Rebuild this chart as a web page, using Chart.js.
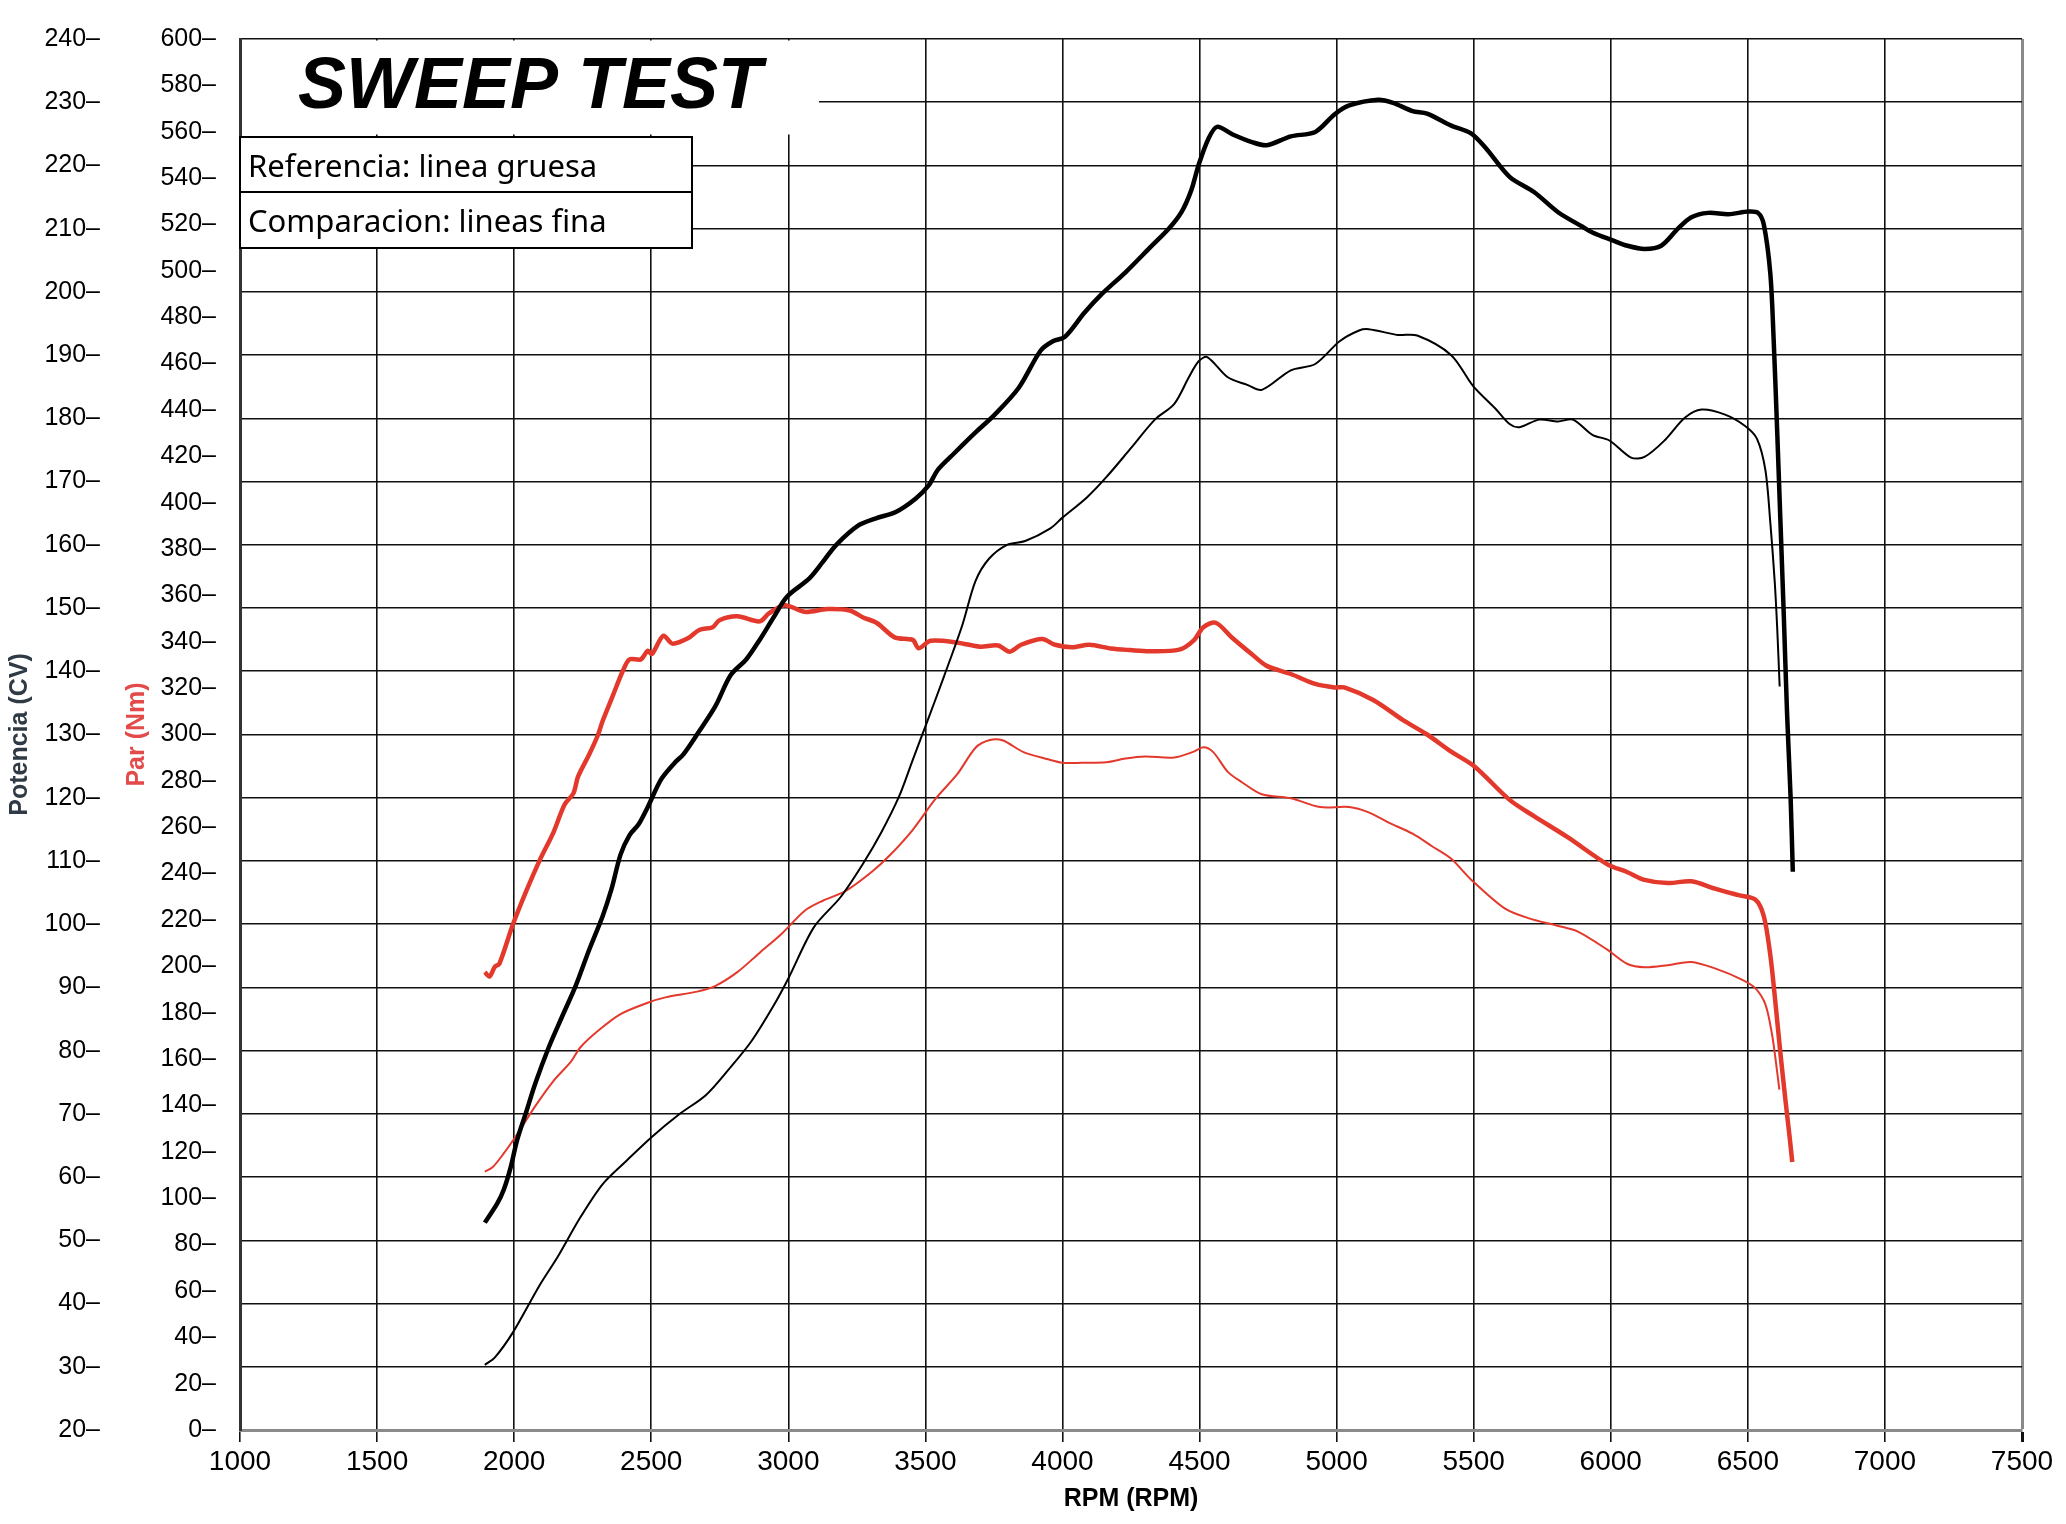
<!DOCTYPE html>
<html>
<head>
<meta charset="utf-8">
<title>Sweep test</title>
<script src="https://cdn.jsdelivr.net/npm/chart.js@4.4.1/dist/chart.umd.min.js"></script>
<style>
  html, body { margin: 0; padding: 0; background: #fff; }
  #wrap { width: 2066px; height: 1524px; }
</style>
</head>
<body>
<div id="wrap"><canvas id="dyno" width="2066" height="1524"></canvas></div>
<script>
// Reference run (thick lines)
const rpmRefPower = [1893, 1938, 1962, 1987, 2011, 2044, 2077, 2126, 2175, 2224, 2274, 2323, 2356, 2388, 2421, 2454, 2487, 2536, 2585, 2618, 2667, 2733, 2790, 2847, 2896, 2946, 2995, 3077, 3126, 3175, 3257, 3320, 3392, 3464, 3512, 3546, 3608, 3681, 3753, 3840, 3920, 3965, 4009, 4080, 4142, 4230, 4319, 4390, 4434, 4470, 4496, 4532, 4564, 4621, 4691, 4745, 4833, 4922, 4993, 5046, 5152, 5206, 5277, 5330, 5418, 5489, 5543, 5631, 5720, 5808, 5897, 5933, 6004, 6061, 6123, 6184, 6245, 6294, 6355, 6429, 6502, 6537, 6558, 6582, 6594, 6607, 6619, 6631, 6643, 6656, 6664];
const refPower = [52.8, 55.8, 58.0, 61.5, 65.9, 70.3, 74.8, 80.5, 85.4, 90.2, 96.0, 101.3, 105.7, 111.0, 114.1, 115.8, 118.5, 122.9, 125.5, 126.9, 130.0, 134.4, 139.4, 141.9, 145.0, 148.5, 151.8, 154.7, 157.3, 160.0, 163.1, 164.2, 165.2, 167.3, 169.4, 171.9, 174.6, 177.7, 180.6, 184.8, 190.7, 192.2, 192.9, 196.7, 199.6, 203.1, 207.0, 210.1, 212.6, 216.1, 220.0, 224.2, 226.1, 224.9, 223.7, 223.2, 224.6, 225.3, 228.1, 229.5, 230.4, 229.9, 228.6, 228.2, 226.3, 225.1, 222.8, 218.2, 215.8, 212.6, 210.3, 209.4, 208.2, 207.3, 206.8, 207.3, 210.0, 211.8, 212.5, 212.3, 212.7, 212.5, 210.7, 202.9, 192.6, 178.0, 163.5, 149.0, 133.4, 120.0, 108.3];

const rpmRefTorque = [1893, 1910, 1930, 1946, 1995, 2044, 2093, 2143, 2184, 2216, 2233, 2274, 2306, 2323, 2356, 2397, 2421, 2462, 2487, 2503, 2544, 2577, 2634, 2675, 2724, 2749, 2814, 2896, 2929, 2987, 3060, 3142, 3224, 3273, 3323, 3388, 3454, 3475, 3519, 3618, 3699, 3765, 3808, 3849, 3926, 3973, 4035, 4098, 4177, 4248, 4319, 4426, 4479, 4514, 4559, 4621, 4691, 4745, 4833, 4922, 4993, 5028, 5135, 5241, 5330, 5418, 5502, 5631, 5720, 5844, 5986, 6061, 6123, 6208, 6294, 6380, 6466, 6527, 6558, 6582, 6600, 6619, 6637, 6652, 6662];
const refTorque = [197.5, 195.6, 199.9, 201.1, 217.9, 232.4, 245.7, 257.7, 269.8, 274.6, 281.8, 291.5, 299.9, 305.9, 315.6, 327.6, 332.4, 332.4, 336.1, 334.8, 342.6, 339.2, 341.5, 345.1, 346.3, 349.3, 351.0, 348.8, 352.2, 355.8, 352.9, 354.1, 353.5, 350.5, 348.1, 341.9, 340.8, 337.2, 340.4, 339.6, 337.9, 338.4, 335.7, 338.7, 341.2, 338.7, 337.6, 338.7, 337.1, 336.4, 335.9, 336.6, 340.6, 346.3, 348.2, 341.5, 334.6, 329.6, 326.1, 321.8, 320.3, 320.3, 314.8, 306.3, 300.0, 292.6, 286.3, 271.8, 264.8, 255.6, 244.1, 240.6, 237.3, 235.9, 236.7, 233.5, 230.7, 228.8, 221.7, 204.8, 185.0, 162.3, 142.4, 126.8, 115.6];

// Comparison run (thin lines)
const rpmCmpPower = [1893, 1930, 1995, 2093, 2159, 2241, 2323, 2405, 2503, 2601, 2700, 2782, 2864, 2946, 3001, 3093, 3191, 3273, 3339, 3404, 3454, 3508, 3568, 3634, 3683, 3732, 3798, 3864, 3956, 4000, 4089, 4160, 4248, 4337, 4408, 4461, 4496, 4528, 4603, 4674, 4727, 4833, 4922, 5011, 5082, 5117, 5223, 5294, 5418, 5498, 5578, 5631, 5667, 5738, 5808, 5862, 5933, 5995, 6074, 6123, 6196, 6270, 6331, 6417, 6490, 6533, 6564, 6582, 6598, 6607, 6616];
const cmpPower = [30.3, 31.5, 35.4, 42.9, 47.4, 53.6, 58.9, 62.4, 66.4, 69.9, 73.0, 77.0, 81.4, 87.1, 91.5, 99.5, 104.3, 109.6, 114.5, 120.2, 126.0, 132.2, 139.2, 147.2, 154.3, 157.8, 160.0, 160.6, 162.6, 164.3, 167.5, 170.7, 175.2, 179.8, 182.3, 186.5, 189.0, 189.7, 186.5, 185.3, 184.5, 187.6, 188.6, 192.2, 193.9, 194.1, 193.2, 193.1, 190.0, 185.1, 181.6, 179.1, 178.6, 179.8, 179.5, 179.8, 177.4, 176.5, 173.8, 173.9, 176.5, 180.1, 181.4, 180.6, 178.8, 176.8, 171.8, 163.5, 154.2, 146.9, 137.6];

const rpmCmpTorque = [1893, 1921, 1962, 2011, 2077, 2143, 2208, 2241, 2306, 2388, 2487, 2552, 2667, 2733, 2814, 2896, 2978, 3060, 3126, 3208, 3306, 3372, 3454, 3536, 3617, 3683, 3732, 3781, 3858, 3947, 4000, 4071, 4160, 4230, 4301, 4408, 4479, 4514, 4550, 4603, 4656, 4727, 4833, 4940, 5046, 5117, 5188, 5277, 5348, 5418, 5489, 5613, 5702, 5809, 5880, 5986, 6061, 6123, 6208, 6294, 6380, 6478, 6527, 6564, 6588, 6603, 6615];
const cmpTorque = [111.5, 113.3, 119.3, 127.6, 139.7, 150.5, 159.0, 165.0, 172.2, 179.4, 184.3, 186.6, 189.1, 191.5, 197.5, 205.9, 214.3, 224.0, 228.3, 232.4, 240.9, 248.1, 258.9, 272.1, 283.0, 294.3, 297.5, 297.5, 292.4, 289.3, 287.8, 287.8, 288.0, 289.6, 290.5, 290.1, 292.6, 294.5, 292.4, 283.9, 279.3, 274.2, 272.5, 268.7, 268.7, 266.4, 262.1, 257.2, 251.8, 246.4, 237.6, 225.0, 220.7, 217.4, 215.0, 207.3, 201.0, 199.6, 200.5, 201.9, 199.1, 194.3, 190.6, 183.6, 170.8, 158.1, 146.8];

const chartTitle = "SWEEP TEST";
const noteLines = ["Referencia: linea gruesa", "Comparacion: lineas fina"];

const RED = "#e3392c";

function toPoints(xs, ys) {
  return xs.map((x, i) => ({ x: x, y: ys[i] }));
}

// Title block + note box drawn over the grid
const overlayPlugin = {
  id: "overlay",
  beforeDatasetsDraw(chart) {
    const ctx = chart.ctx;
    const a = chart.chartArea;
    ctx.save();
    // white area behind the title
    ctx.fillStyle = "#fff";
    ctx.fillRect(a.left + 2, a.top + 1.5, 577, 94);
    ctx.fillStyle = "#000";
    ctx.font = "italic bold 72px 'Liberation Sans', Arial, sans-serif";
    ctx.textAlign = "center";
    ctx.textBaseline = "middle";
    ctx.fillText(chartTitle, a.left + 290, a.top + 49);

    // note box
    const bx = a.left, by = 137, bw = 452, bh = 111;
    ctx.fillStyle = "#fff";
    ctx.fillRect(bx, by, bw, bh);
    ctx.strokeStyle = "#000";
    ctx.lineWidth = 2;
    ctx.strokeRect(bx, by, bw, bh);
    ctx.beginPath();
    ctx.moveTo(bx, by + 55);
    ctx.lineTo(bx + bw, by + 55);
    ctx.stroke();
    ctx.fillStyle = "#000";
    ctx.font = "31px 'Noto Sans', 'Open Sans', sans-serif";
    ctx.textAlign = "left";
    ctx.fillText(noteLines[0], bx + 8, by + 31);
    ctx.fillText(noteLines[1], bx + 8, by + 86);
    ctx.restore();
  }
};

const ctx = document.getElementById("dyno").getContext("2d");
new Chart(ctx, {
  type: "line",
  data: {
    datasets: [
      {
        label: "Potencia referencia",
        data: toPoints(rpmRefPower, refPower),
        yAxisID: "yP",
        borderColor: "#000",
        borderWidth: 4.5
      },
      {
        label: "Potencia comparacion",
        data: toPoints(rpmCmpPower, cmpPower),
        yAxisID: "yP",
        borderColor: "#000",
        borderWidth: 2
      },
      {
        label: "Par referencia",
        data: toPoints(rpmRefTorque, refTorque),
        yAxisID: "yT",
        borderColor: RED,
        borderWidth: 4.5
      },
      {
        label: "Par comparacion",
        data: toPoints(rpmCmpTorque, cmpTorque),
        yAxisID: "yT",
        borderColor: RED,
        borderWidth: 2
      }
    ]
  },
  options: {
    responsive: false,
    animation: false,
    devicePixelRatio: 1,
    layout: { padding: { top: 32, right: 44, left: 0, bottom: 0 } },
    elements: {
      point: { radius: 0 },
      line: { tension: 0.3, fill: false }
    },
    plugins: {
      legend: { display: false },
      tooltip: { enabled: false }
    },
    scales: {
      x: {
        type: "linear",
        min: 1000,
        max: 7500,
        ticks: {
          stepSize: 500,
          color: "#000",
          padding: 3,
          font: { family: "'Liberation Sans Narrow', 'Arial Narrow', 'Liberation Sans', sans-serif", size: 28 },
          callback: v => String(v)
        },
        grid: {
          color: c => (c.index === 13 ? "#8a8a8a" : "#111"),
          lineWidth: c => (c.index === 13 ? 3 : 1.6),
          tickColor: "#111",
          tickLength: 12
        },
        border: { display: true, color: "#8a8a8a", width: 3 },
        title: {
          display: true,
          text: "RPM (RPM)",
          color: "#000",
          font: { family: "'Liberation Sans', Arial, sans-serif", size: 25, weight: "bold" },
          padding: { top: 2, bottom: 10 }
        },
        afterFit: s => { s.height = 94; }
      },
      yP: {
        type: "linear",
        position: "left",
        weight: 1,
        min: 20,
        max: 240,
        ticks: {
          stepSize: 10,
          autoSkip: false,
          color: "#000",
          padding: 10,
          font: { family: "'Liberation Sans', Arial, sans-serif", size: 25 },
          callback: v => v + "\u2013"
        },
        grid: {
          color: c => (c.index === 0 ? "rgba(0,0,0,0)" : "#111"),
          lineWidth: 1.6,
          drawTicks: false
        },
        border: { display: false },
        title: {
          display: true,
          text: "Potencia (CV)",
          color: "#2f3a45",
          font: { family: "'Liberation Sans', Arial, sans-serif", size: 25, weight: "bold" },
          padding: { top: 5, bottom: 0 }
        },
        afterFit: s => { s.width = 110; }
      },
      yT: {
        type: "linear",
        position: "left",
        weight: 0,
        min: 0,
        max: 600,
        ticks: {
          stepSize: 20,
          autoSkip: false,
          color: "#000",
          padding: 24,
          font: { family: "'Liberation Sans', Arial, sans-serif", size: 25 },
          callback: v => v + "\u2013"
        },
        grid: { display: false, drawTicks: false },
        border: { display: true, color: "#333", width: 3 },
        title: {
          display: true,
          text: "Par (Nm)",
          color: "#e34a4a",
          font: { family: "'Liberation Sans', Arial, sans-serif", size: 25, weight: "bold" },
          padding: { top: 12, bottom: 0 }
        },
        afterFit: s => { s.width = 130; }
      }
    }
  },
  plugins: [overlayPlugin]
});
</script>
</body>
</html>
